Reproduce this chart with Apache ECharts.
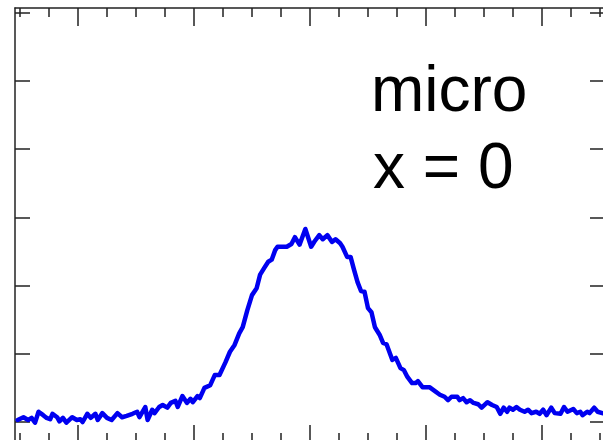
<!DOCTYPE html>
<html>
<head>
<meta charset="utf-8">
<script src="https://cdn.jsdelivr.net/npm/echarts@6/dist/echarts.min.js"></script>
<style>
  html, body { margin: 0; padding: 0; background: #fff; overflow: hidden; }
  #chart { width: 603px; height: 440px; }
</style>
</head>
<body>
<div id="chart"></div>
<script>
// x positions of the spectrum samples
const xs = [
  -2.52, -2.47, -2.43, -2.40, -2.37, -2.34, -2.30, -2.27, -2.24, -2.22,
  -2.18, -2.16, -2.13, -2.10, -2.05, -2.01, -1.98, -1.96, -1.92, -1.89,
  -1.85, -1.83, -1.79, -1.75, -1.71, -1.66, -1.62, -1.58, -1.53, -1.49,
  -1.47, -1.42, -1.40, -1.36, -1.34, -1.30, -1.27, -1.23, -1.20, -1.16,
  -1.14, -1.10, -1.06, -1.03, -1.01, -0.97, -0.95, -0.91, -0.86, -0.82,
  -0.78, -0.73, -0.69, -0.65, -0.61, -0.58, -0.54, -0.50, -0.46, -0.43,
  -0.39, -0.36, -0.33, -0.30, -0.28, -0.20, -0.16, -0.13, -0.09, -0.04,
  0.01, 0.04, 0.08, 0.11, 0.15, 0.19, 0.22, 0.26, 0.28, 0.32,
  0.35, 0.38, 0.41, 0.44, 0.47, 0.50, 0.53, 0.56, 0.60, 0.63,
  0.66, 0.71, 0.74, 0.78, 0.81, 0.84, 0.88, 0.91, 0.93, 0.97,
  1.03, 1.08, 1.12, 1.16, 1.19, 1.22, 1.27, 1.29, 1.32, 1.35,
  1.38, 1.41, 1.45, 1.48, 1.53, 1.57, 1.61, 1.64, 1.67, 1.70,
  1.72, 1.75, 1.78, 1.81, 1.85, 1.88, 1.91, 1.95, 1.98, 2.01,
  2.04, 2.08, 2.11, 2.16, 2.19, 2.22, 2.27, 2.30, 2.33, 2.35,
  2.39, 2.41, 2.45, 2.48, 2.52
];
// intensity values
const ys = [
  0.03, 0.07, 0.03, 0.06, -0.01, 0.15, 0.10, 0.06, 0.04, 0.12,
  0.07, 0.01, 0.06, -0.01, 0.07, 0.03, 0.04, 0.00, 0.12, 0.06,
  0.12, 0.03, 0.13, 0.06, 0.03, 0.13, 0.07, 0.09, 0.12, 0.15,
  0.07, 0.22, 0.03, 0.18, 0.13, 0.22, 0.25, 0.21, 0.28, 0.31,
  0.22, 0.38, 0.28, 0.34, 0.29, 0.38, 0.35, 0.50, 0.54, 0.69,
  0.69, 0.87, 1.03, 1.13, 1.30, 1.39, 1.64, 1.86, 1.96, 2.16,
  2.27, 2.35, 2.38, 2.52, 2.57, 2.57, 2.61, 2.71, 2.60, 2.83,
  2.57, 2.65, 2.74, 2.68, 2.74, 2.64, 2.68, 2.62, 2.57, 2.42,
  2.42, 2.23, 2.05, 1.92, 1.91, 1.67, 1.61, 1.39, 1.28, 1.16,
  1.14, 0.91, 0.94, 0.79, 0.76, 0.66, 0.57, 0.57, 0.60, 0.51,
  0.51, 0.45, 0.40, 0.37, 0.32, 0.37, 0.37, 0.32, 0.35, 0.29,
  0.32, 0.28, 0.26, 0.21, 0.29, 0.25, 0.22, 0.12, 0.21, 0.15,
  0.21, 0.18, 0.22, 0.18, 0.15, 0.18, 0.13, 0.15, 0.12, 0.18,
  0.10, 0.21, 0.13, 0.12, 0.22, 0.15, 0.19, 0.13, 0.15, 0.10,
  0.15, 0.13, 0.21, 0.15, 0.13
];
// tick positions (the plot has no tick labels)
const xMajorTicks = [-2, -1, 0, 1, 2];
const xMinorTicks = [-2.5, -2.25, -1.75, -1.5, -1.25, -0.75, -0.5, -0.25,
  0.25, 0.5, 0.75, 1.25, 1.5, 1.75, 2.25, 2.5];
const yTicks = [0, 1, 2, 3, 4, 5, 6];
const textLines = ["micro", "x = 0"];

// the frame is cut by the picture on the right and at the bottom
const xMin = -2.543, xMax = 2.526;
const yMin = -0.264, yMax = 6.07;

const frameColor = "#222";

function xAxisOf(pos, ticks, len, showLine) {
  return {
    type: "value",
    position: pos,
    min: xMin,
    max: xMax,
    axisLine: { show: showLine, onZero: false, lineStyle: { color: frameColor, width: 1.5 } },
    axisTick: {
      show: true,
      inside: true,
      length: len,
      customValues: ticks,
      lineStyle: { color: frameColor, width: 1.5 },
    },
    axisLabel: { show: false },
    splitLine: { show: false },
  };
}

function yAxisOf(pos, showLine, len) {
  return {
    type: "value",
    position: pos,
    min: yMin,
    max: yMax,
    axisLine: { show: showLine, onZero: false, lineStyle: { color: frameColor, width: 1.5 } },
    axisTick: {
      show: true,
      inside: true,
      length: len,
      customValues: yTicks,
      lineStyle: { color: frameColor, width: 1.5 },
    },
    axisLabel: { show: false },
    splitLine: { show: false },
  };
}

const chart = echarts.init(document.getElementById("chart"), null, { renderer: "canvas" });

chart.setOption({
  animation: false,
  backgroundColor: "#fff",
  grid: { left: 15, right: 0, top: 8, bottom: 0, containLabel: false },
  xAxis: [
    xAxisOf("bottom", xMajorTicks, 15, false),
    xAxisOf("bottom", xMinorTicks, 7, false),
    xAxisOf("top", xMajorTicks, 18, true),
    xAxisOf("top", xMinorTicks, 9, false),
  ],
  yAxis: [yAxisOf("left", true, 15), yAxisOf("right", false, 13)],
  graphic: [
    {
      type: "text",
      left: 371,
      top: 61,
      style: {
        text: textLines[0],
        font: '64px "Liberation Sans", Arial, sans-serif',
        fill: "#000",
      },
    },
    {
      type: "text",
      left: 373,
      top: 138,
      style: {
        text: textLines[1],
        font: '64px "Liberation Sans", Arial, sans-serif',
        fill: "#000",
      },
    },
  ],
  series: [
    {
      type: "line",
      xAxisIndex: 0,
      yAxisIndex: 0,
      data: xs.map((x, i) => [x, ys[i]]),
      showSymbol: false,
      lineStyle: { color: "#0000f0", width: 4.5, join: "round", cap: "round" },
      silent: true,
    },
  ],
});
</script>
</body>
</html>
